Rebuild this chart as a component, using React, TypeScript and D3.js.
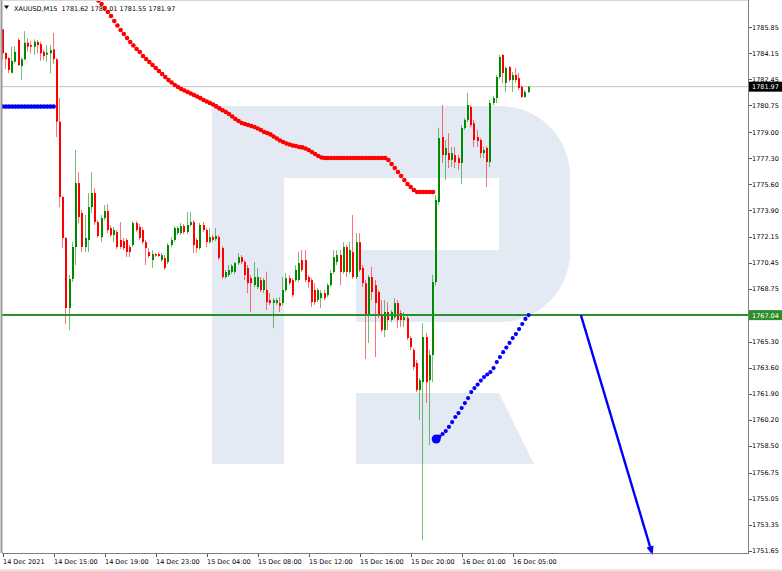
import React from 'react';
import * as d3 from 'd3';

const symbolName = 'XAUUSD,M15';
const headerValues = [1781.62, 1782.01, 1781.55, 1781.97];

const timeTickBars = [0, 16, 32, 48, 64, 80, 96, 112, 128, 144, 160];
const timeTickLabels = [
  '14 Dec 2021', '14 Dec 15:00', '14 Dec 19:00', '14 Dec 23:00', '15 Dec 04:00',
  '15 Dec 08:00', '15 Dec 12:00', '15 Dec 16:00', '15 Dec 20:00', '16 Dec 01:00', '16 Dec 05:00',
];
const priceTicks = [
  1785.85, 1784.15, 1782.45, 1780.75, 1779.0, 1777.3, 1775.6, 1773.9, 1772.15, 1770.45,
  1768.75, 1765.3, 1763.6, 1761.9, 1760.2, 1758.5, 1756.75, 1755.05, 1753.35, 1751.65,
];

const opens = [
  1785.72, 1784.17, 1783.84, 1782.88, 1783.60, 1785.02, 1783.32, 1783.76, 1784.84, 1784.69,
  1784.58, 1784.90, 1784.75, 1784.25, 1784.06, 1784.15, 1784.41, 1783.76, 1779.68, 1774.76,
  1772.08, 1767.50, 1769.40, 1771.49, 1775.67, 1773.71, 1771.49, 1771.95, 1774.10, 1775.02,
  1773.12, 1772.14, 1773.38, 1773.84, 1772.73, 1772.27, 1772.47, 1771.95, 1771.88, 1771.95,
  1771.49, 1771.62, 1773.06, 1772.80, 1772.60, 1771.81, 1771.16, 1770.64, 1771.03, 1771.03,
  1770.64, 1770.77, 1770.51, 1771.62, 1771.95, 1772.40, 1772.40, 1772.86, 1772.47, 1772.93,
  1773.12, 1771.95, 1771.42, 1772.93, 1772.60, 1771.81, 1772.14, 1772.01, 1772.14, 1771.42,
  1769.53, 1769.66, 1769.86, 1769.86, 1770.44, 1770.83, 1770.51, 1770.12, 1769.46, 1769.00,
  1768.87, 1769.33, 1768.68, 1768.68, 1768.02, 1767.83, 1767.83, 1767.83, 1767.83, 1768.68,
  1769.46, 1769.33, 1769.33, 1769.33, 1770.64, 1770.64, 1769.53, 1769.33, 1768.68, 1768.02,
  1768.15, 1768.48, 1768.35, 1769.00, 1769.86, 1770.51, 1770.97, 1769.86, 1771.49, 1769.86,
  1771.16, 1769.53, 1771.81, 1770.12, 1769.13, 1767.04, 1769.53, 1769.00, 1768.55, 1767.04,
  1766.06, 1767.24, 1766.72, 1766.91, 1767.83, 1767.17, 1766.72, 1766.85, 1765.54, 1764.76,
  1763.91, 1762.14, 1762.66, 1765.61, 1762.79, 1764.43, 1769.20, 1774.43, 1778.68, 1777.50,
  1777.63, 1777.18, 1777.50, 1777.30, 1776.98, 1779.27, 1779.79, 1780.64, 1779.59, 1778.68,
  1778.48, 1777.63, 1777.96, 1777.04, 1780.90, 1781.23, 1782.60, 1784.04, 1782.21, 1783.25,
  1782.40, 1782.73, 1782.53, 1781.95, 1781.30, 1781.62,
];
const highs = [
  1785.74, 1784.23, 1783.90, 1784.58, 1784.62, 1785.15, 1783.90, 1785.60, 1785.13, 1784.97,
  1785.06, 1785.02, 1784.90, 1784.36, 1784.69, 1784.69, 1785.49, 1783.84, 1781.23, 1774.82,
  1772.14, 1769.66, 1771.81, 1777.83, 1776.39, 1773.91, 1773.58, 1775.02, 1776.39, 1775.34,
  1773.25, 1773.58, 1774.23, 1774.30, 1772.93, 1772.80, 1772.60, 1773.12, 1772.08, 1772.08,
  1771.62, 1773.19, 1773.19, 1772.99, 1772.80, 1771.95, 1771.42, 1771.29, 1771.10, 1771.16,
  1771.10, 1770.97, 1771.75, 1772.14, 1772.86, 1772.86, 1773.06, 1772.99, 1773.78, 1773.78,
  1773.25, 1772.08, 1773.06, 1773.12, 1772.73, 1772.73, 1772.27, 1772.73, 1772.27, 1771.55,
  1769.99, 1770.31, 1770.38, 1770.51, 1771.10, 1770.97, 1770.64, 1770.31, 1769.66, 1770.51,
  1770.12, 1769.53, 1769.46, 1769.86, 1768.48, 1768.15, 1768.15, 1768.22, 1769.53, 1769.79,
  1769.66, 1769.46, 1770.31, 1771.16, 1771.29, 1771.29, 1769.66, 1769.46, 1769.13, 1768.81,
  1768.68, 1768.68, 1769.13, 1769.99, 1771.29, 1771.29, 1771.29, 1771.81, 1771.62, 1771.81,
  1773.58, 1772.40, 1772.40, 1770.31, 1769.33, 1769.66, 1770.18, 1769.33, 1768.68, 1768.02,
  1768.02, 1767.89, 1767.37, 1768.15, 1768.02, 1767.37, 1767.24, 1766.98, 1765.67, 1764.89,
  1764.10, 1762.92, 1766.52, 1765.87, 1764.76, 1769.66, 1774.89, 1779.27, 1780.77, 1778.48,
  1778.94, 1778.02, 1778.02, 1777.50, 1779.46, 1779.92, 1781.56, 1780.77, 1779.79, 1779.14,
  1778.61, 1778.03, 1778.09, 1781.10, 1781.36, 1782.73, 1784.04, 1784.10, 1783.32, 1783.32,
  1782.93, 1783.19, 1782.86, 1782.08, 1781.75, 1782.01,
];
const lows = [
  1783.76, 1783.12, 1782.86, 1782.84, 1783.49, 1783.32, 1782.40, 1783.71, 1784.25, 1784.15,
  1784.04, 1784.15, 1783.66, 1783.71, 1783.60, 1782.84, 1783.49, 1778.68, 1774.10, 1771.42,
  1766.45, 1766.06, 1769.20, 1770.31, 1773.06, 1771.16, 1771.16, 1771.16, 1773.71, 1772.93,
  1772.08, 1771.81, 1773.25, 1772.40, 1772.14, 1771.81, 1771.36, 1771.36, 1771.29, 1770.83,
  1770.83, 1771.49, 1772.47, 1771.95, 1771.68, 1770.31, 1770.77, 1770.12, 1770.83, 1770.83,
  1770.51, 1769.99, 1770.38, 1771.49, 1771.81, 1772.27, 1772.27, 1772.34, 1772.34, 1772.80,
  1771.10, 1771.10, 1771.29, 1772.47, 1771.49, 1771.68, 1771.81, 1771.88, 1770.64, 1769.40,
  1769.40, 1769.53, 1769.73, 1769.73, 1770.31, 1770.38, 1769.33, 1768.48, 1767.24, 1768.87,
  1768.74, 1768.55, 1768.48, 1767.37, 1767.70, 1766.19, 1767.70, 1767.24, 1767.70, 1768.55,
  1769.00, 1768.22, 1769.20, 1769.20, 1769.86, 1769.20, 1768.81, 1767.57, 1767.70, 1767.89,
  1767.50, 1768.02, 1768.22, 1768.87, 1769.73, 1770.31, 1769.00, 1769.73, 1769.53, 1769.73,
  1769.40, 1769.40, 1769.86, 1768.87, 1764.17, 1765.22, 1768.02, 1764.30, 1766.85, 1765.93,
  1765.60, 1766.06, 1766.59, 1766.78, 1766.19, 1766.26, 1766.26, 1765.41, 1764.76, 1763.45,
  1762.01, 1760.18, 1752.34, 1761.29, 1758.55, 1762.66, 1769.00, 1774.23, 1776.98, 1775.87,
  1776.65, 1776.72, 1776.65, 1776.52, 1775.61, 1779.14, 1779.66, 1779.33, 1778.03, 1778.03,
  1777.30, 1777.30, 1775.41, 1776.72, 1780.77, 1780.90, 1782.47, 1782.21, 1781.62, 1782.27,
  1781.62, 1782.21, 1781.75, 1781.23, 1781.23, 1781.55,
];
const closes = [
  1784.15, 1783.77, 1783.06, 1783.66, 1784.25, 1783.38, 1783.76, 1784.84, 1784.58, 1784.58,
  1784.90, 1784.69, 1784.15, 1783.97, 1784.19, 1784.36, 1783.76, 1779.68, 1774.76, 1772.08,
  1767.50, 1769.40, 1771.49, 1775.67, 1773.45, 1771.49, 1772.08, 1774.10, 1775.02, 1773.12,
  1772.21, 1773.38, 1773.84, 1772.60, 1772.27, 1772.60, 1771.49, 1771.49, 1771.42, 1771.16,
  1771.16, 1773.06, 1772.60, 1772.08, 1771.81, 1771.42, 1770.90, 1771.03, 1770.93, 1770.90,
  1770.97, 1770.12, 1771.62, 1771.95, 1772.73, 1772.73, 1772.86, 1772.47, 1772.93, 1773.12,
  1771.62, 1771.42, 1772.93, 1772.60, 1771.81, 1772.14, 1771.95, 1772.21, 1770.77, 1769.53,
  1769.86, 1769.99, 1770.25, 1770.44, 1770.83, 1770.51, 1769.66, 1769.13, 1769.13, 1769.53,
  1769.53, 1768.68, 1769.33, 1767.89, 1767.83, 1768.02, 1768.02, 1767.63, 1768.68, 1769.46,
  1769.13, 1768.35, 1769.99, 1770.44, 1769.99, 1769.33, 1769.20, 1767.89, 1767.89, 1768.68,
  1768.48, 1768.15, 1769.00, 1769.79, 1770.83, 1770.97, 1769.86, 1771.49, 1769.86, 1771.29,
  1769.53, 1771.81, 1769.99, 1769.13, 1767.04, 1769.53, 1768.55, 1767.83, 1767.04, 1766.06,
  1767.24, 1766.72, 1767.24, 1767.83, 1766.72, 1766.72, 1766.91, 1765.54, 1764.95, 1763.65,
  1762.14, 1762.79, 1765.61, 1762.66, 1764.43, 1769.20, 1774.56, 1778.61, 1777.50, 1777.96,
  1777.18, 1777.63, 1777.04, 1776.98, 1779.27, 1779.79, 1780.77, 1779.46, 1778.48, 1778.42,
  1777.63, 1777.83, 1777.04, 1780.90, 1781.23, 1782.60, 1783.91, 1782.86, 1783.19, 1782.40,
  1782.73, 1782.40, 1781.88, 1781.30, 1781.62, 1781.97,
];

// red dotted indicator, one value per bar starting at bar 30
const sarFirstBar = 30;
const sarValues = [
  1787.60, 1787.37, 1787.11, 1786.85, 1786.59, 1786.26, 1785.97, 1785.67, 1785.41, 1785.15,
  1784.89, 1784.66, 1784.43, 1784.24, 1783.97, 1783.78, 1783.58, 1783.39, 1783.19, 1782.99,
  1782.80, 1782.60, 1782.40, 1782.24, 1782.08, 1781.95, 1781.82, 1781.72, 1781.62, 1781.52,
  1781.43, 1781.33, 1781.22, 1781.10, 1781.00, 1780.90, 1780.80, 1780.68, 1780.55, 1780.43,
  1780.31, 1780.18, 1780.02, 1779.86, 1779.73, 1779.60, 1779.53, 1779.46, 1779.40, 1779.33,
  1779.24, 1779.14, 1779.01, 1778.94, 1778.85, 1778.71, 1778.58, 1778.45, 1778.35, 1778.26,
  1778.19, 1778.13, 1778.09, 1778.03, 1778.00, 1777.93, 1777.83, 1777.70, 1777.57, 1777.44,
  1777.34, 1777.31, 1777.31, 1777.31, 1777.31, 1777.31, 1777.31, 1777.31, 1777.31, 1777.31,
  1777.31, 1777.31, 1777.31, 1777.31, 1777.31, 1777.31, 1777.31, 1777.31, 1777.31, 1777.31,
  1777.31, 1777.18, 1776.92, 1776.65, 1776.39, 1776.13, 1775.87, 1775.61, 1775.41, 1775.22,
  1775.09, 1775.09, 1775.09, 1775.09, 1775.09, 1775.09,
];

// blue dotted indicator from bar 136
const trendFirstBar = 136;
const trendValues = [
  1758.94, 1759.10, 1759.27, 1759.46, 1759.73, 1760.05, 1760.38, 1760.64, 1760.97, 1761.29,
  1761.62, 1762.01, 1762.27, 1762.50, 1762.76, 1762.99, 1763.16, 1763.32, 1763.58, 1763.97,
  1764.30, 1764.62, 1764.92, 1765.22, 1765.54, 1765.80, 1766.13, 1766.46, 1766.79, 1767.04,
];

// blue band at the left, bars 0..16
const bandValues = [
  1780.67, 1780.67, 1780.67, 1780.67, 1780.67, 1780.67, 1780.67, 1780.67, 1780.67,
  1780.67, 1780.67, 1780.67, 1780.67, 1780.67, 1780.67, 1780.67, 1780.67,
];

const supportPrice = 1767.04;
const lastPrice = 1781.97;
const forecastBars = [181.4, 203.9];
const forecastPrices = [1767.04, 1751.35];

const FONT = '"DejaVu Sans", Verdana, sans-serif';
const BULL = '#008a00';
const BEAR = '#ff0000';
const LEVEL_GREEN = '#2b8f2b';

export default function App() {
  const W = 782;
  const H = 571;
  const plotL = 2;
  const plotR = 748;
  const plotT = 0;
  const plotB = 553;

  const lastBar = opens.length - 1;
  const x = d3.scaleLinear().domain([0, lastBar]).range([2.7, 2.7 + lastBar * 3.1875]);
  const y = d3.scaleLinear().domain([1751.65, 1785.85]).range([550.6, 27.3]);

  const header = `${symbolName}  ${headerValues.map((v) => v.toFixed(2)).join(' ')}`;

  // forecast arrow geometry
  const p1 = [x(forecastBars[0]), y(forecastPrices[0])];
  const p2 = [x(forecastBars[1]), y(forecastPrices[1])];
  const dx = p2[0] - p1[0];
  const dy = p2[1] - p1[1];
  const len = Math.hypot(dx, dy);
  const ux = dx / len;
  const uy = dy / len;
  const headLen = 9;
  const headHalf = 3.6;
  const bx = p2[0] - ux * headLen;
  const by = p2[1] - uy * headLen;
  const arrowHead = [
    [p2[0], p2[1]],
    [bx - uy * headHalf, by + ux * headHalf],
    [bx + uy * headHalf, by - ux * headHalf],
  ];

  const bandLine = d3
    .line<number>()
    .x((_, i) => x(i))
    .y((d) => y(d));

  const logoPath =
    'M212,106 H500 A70,70 0 0 1 570,176 V252 A70,70 0 0 1 500,322 H356 V250 H499 V178 H284 V464 H212 Z ' +
    'M356,393 H499 L534,464 H356 Z';

  return (
    <svg
      width={W}
      height={H}
      viewBox={`0 0 ${W} ${H}`}
      style={{ position: 'absolute', left: 0, top: 0, display: 'block', background: '#fff' }}
    >
      <defs>
        <clipPath id="plot">
          <rect x={plotL} y={plotT} width={plotR - plotL} height={plotB - plotT} />
        </clipPath>
      </defs>
      <rect x={0} y={0} width={W} height={H} fill="#ffffff" />

      {/* watermark logo */}
      <path d={logoPath} fill="#e4eaf3" />

      {/* current price line */}
      <line x1={plotL} x2={plotR} y1={y(lastPrice)} y2={y(lastPrice)} stroke="#c4c4c4" strokeWidth={1} />

      {/* header */}
      <path d="M4,5.5 L9,5.5 L6.5,9 Z" fill="#000" />
      <text x={14} y={10.5} fontFamily={FONT} fontSize={6.5} fill="#000" xmlSpace="preserve" style={{ whiteSpace: 'pre' }}>
        {header}
      </text>

      <g clipPath="url(#plot)">
        {/* candles */}
        {opens.map((o, i) => {
          const c = closes[i];
          const bull = c >= o;
          const col = bull ? BULL : BEAR;
          const cx = Math.round(x(i));
          const top = y(Math.max(o, c));
          const bot = y(Math.min(o, c));
          const bh = Math.max(1, bot - top);
          return (
            <g key={i}>
              <rect x={cx - 1} y={y(highs[i])} width={1} height={Math.max(1, y(lows[i]) - y(highs[i]))} fill={col} opacity={0.55} />
              <rect x={cx - 1} y={top} width={2} height={bh} fill={col} />
            </g>
          );
        })}

        {/* support level */}
        <line x1={plotL} x2={plotR} y1={y(supportPrice)} y2={y(supportPrice)} stroke={LEVEL_GREEN} strokeWidth={2} />

        {/* blue band */}
        <path d={bandLine(bandValues) || ''} fill="none" stroke="#0000ff" strokeWidth={3.2} />
        {bandValues.map((v, i) => (
          <circle key={`b${i}`} cx={x(i)} cy={y(v)} r={2.2} fill="#0000ff" />
        ))}

        {/* red dots */}
        {sarValues.map((v, i) => (
          <circle key={`s${i}`} cx={x(sarFirstBar + i)} cy={y(v)} r={2.3} fill="#ff0000" />
        ))}

        {/* blue dots */}
        {trendValues.map((v, i) => (
          <circle key={`t${i}`} cx={x(trendFirstBar + i)} cy={y(v)} r={i === 0 ? 4.5 : 2.1} fill="#0000ff" />
        ))}
      </g>

      {/* forecast arrow */}
      <line x1={p1[0]} y1={p1[1]} x2={bx} y2={by} stroke="#0000ff" strokeWidth={2.4} />
      <polygon points={arrowHead.map((p) => p.join(',')).join(' ')} fill="#0000ff" />

      {/* frame */}
      <line x1={1.5} x2={1.5} y1={0} y2={plotB} stroke="#9a9a9a" strokeWidth={2} />
      <line x1={plotL} x2={plotR} y1={0.5} y2={0.5} stroke="#d8d8d8" strokeWidth={1} />
      <line x1={plotR + 0.5} x2={plotR + 0.5} y1={0} y2={plotB + 0.5} stroke="#808080" strokeWidth={1} />
      <line x1={plotL} x2={plotR + 1} y1={plotB + 0.5} y2={plotB + 0.5} stroke="#808080" strokeWidth={1} />

      {/* price axis */}
      {priceTicks.map((v) => (
        <g key={`p${v}`}>
          <line x1={plotR + 1} x2={plotR + 4} y1={Math.round(y(v)) + 0.5} y2={Math.round(y(v)) + 0.5} stroke="#555" strokeWidth={1} />
          <text x={752} y={y(v) + 2.4} fontFamily={FONT} fontSize={6.5} fill="#000">
            {v.toFixed(2)}
          </text>
        </g>
      ))}

      {/* last price label */}
      <rect x={749} y={y(lastPrice) - 5} width={33} height={10} fill="#000" />
      <text x={752} y={y(lastPrice) + 2.4} fontFamily={FONT} fontSize={6.5} fill="#fff">
        {lastPrice.toFixed(2)}
      </text>

      {/* support label */}
      <rect x={749} y={y(supportPrice) - 5} width={33} height={10} fill={LEVEL_GREEN} />
      <text x={752} y={y(supportPrice) + 2.4} fontFamily={FONT} fontSize={6.5} fill="#fff">
        {supportPrice.toFixed(2)}
      </text>

      {/* time axis */}
      {timeTickBars.map((b, i) => (
        <g key={`x${b}`}>
          <line x1={Math.round(x(b)) + 0.5} x2={Math.round(x(b)) + 0.5} y1={plotB + 1} y2={plotB + 4} stroke="#555" strokeWidth={1} />
          <text x={x(b) + 0.3} y={564} fontFamily={FONT} fontSize={6.5} fill="#000">
            {timeTickLabels[i]}
          </text>
        </g>
      ))}

      {/* bottom window edge */}
      <rect x={0} y={569} width={W} height={2} fill="#e6e6e6" />
    </svg>
  );
}
